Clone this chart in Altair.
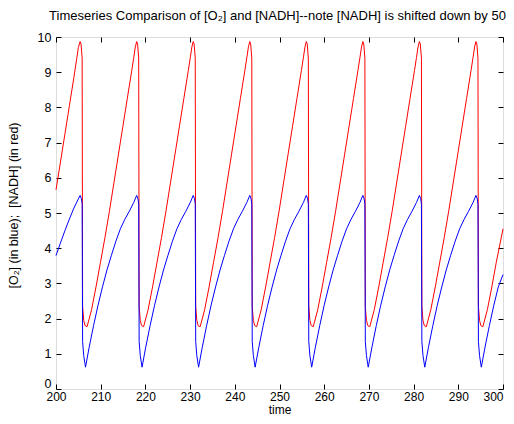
import altair as alt
import pandas as pd

# ---- values ----
x_ticks = [200, 210, 220, 230, 240, 250, 260, 270, 280, 290, 300]
y_ticks = [0, 1, 2, 3, 4, 5, 6, 7, 8, 9, 10]

# times of the saw-tooth peaks
peak_times = [205.4, 218.05, 230.7, 243.35, 256.0, 268.65, 281.3, 293.95]

# [NADH] (red): start of the window, one cycle measured from a peak, end value
red_head_t = [200.0, 201.0, 202.0, 203.0, 204.0, 204.6, 205.0]
red_head_v = [5.66, 6.45, 7.25, 8.05, 8.85, 9.35, 9.70]
red_cycle_dt = [0.0, 0.2, 0.45, 0.55, 0.8, 1.1, 1.55, 2.55, 3.55, 4.55, 5.55,
                6.55, 7.55, 8.55, 9.55, 10.55, 11.55, 12.0, 12.35]
red_cycle_v = [9.87, 9.80, 9.40, 2.35, 1.95, 1.80, 1.77, 2.25, 2.90, 3.60, 4.30,
               5.05, 5.85, 6.65, 7.45, 8.25, 9.05, 9.42, 9.72]
red_end_t = [300.0]
red_end_v = [4.55]

# [O2] (blue)
blue_head_t = [200.0, 201.0, 202.0, 203.0, 204.0, 205.0]
blue_head_v = [3.79, 4.15, 4.50, 4.83, 5.14, 5.40]
blue_cycle_dt = [0.0, 0.3, 0.45, 0.55, 0.8, 1.2, 2.0, 3.0, 4.0, 5.0, 6.0, 7.0,
                 8.0, 9.0, 10.0, 11.0, 12.0]
blue_cycle_v = [5.50, 5.40, 5.25, 1.35, 0.95, 0.62, 1.17, 1.80, 2.38, 2.90, 3.38,
                3.80, 4.20, 4.55, 4.82, 5.05, 5.30]
blue_end_t = [300.0]
blue_end_v = [3.25]


def build(head_t, head_v, cyc_dt, cyc_v, end_t, end_v):
    rows = list(zip(head_t, head_v))
    for p in peak_times:
        for dt, v in zip(cyc_dt, cyc_v):
            t = round(p + dt, 3)
            if t < 299.5:
                rows.append((t, v))
    rows += list(zip(end_t, end_v))
    return pd.DataFrame(rows, columns=["t", "v"])


red_df = build(red_head_t, red_head_v, red_cycle_dt, red_cycle_v, red_end_t, red_end_v)
blue_df = build(blue_head_t, blue_head_v, blue_cycle_dt, blue_cycle_v, blue_end_t, blue_end_v)

FONT = "Liberation Sans"
xscale = alt.Scale(domain=[200, 300], nice=False, zero=False)
yscale = alt.Scale(domain=[0, 10], nice=False, zero=False)

base_axis = dict(tickSize=5, offset=-5, domain=False, grid=False, labelFlush=False,
                 tickColor="black", tickWidth=1, labelColor="black",
                 labelFont=FONT, titleFont=FONT,
                 titleFontWeight="normal", titleColor="black")

last_label_align = {"condition": {"test": "datum.value >= 300", "value": "right"},
                    "value": "center"}
zero_label_offset = {"condition": {"test": "datum.value <= 0", "value": -6},
                     "value": 0}

red = alt.Chart(red_df).mark_line(color="#ff0000", strokeWidth=1).encode(
    x=alt.X("t:Q", scale=xscale,
            axis=alt.Axis(orient="bottom", values=x_ticks, title="time",
                          labelPadding=2, labelAlign=last_label_align,
                          labelFontSize=12, titleFontSize=12,
                          titleX=223.5, titleY=29,
                          titleBaseline="alphabetic", **base_axis)),
    y=alt.Y("v:Q", scale=yscale,
            axis=alt.Axis(orient="left", values=y_ticks,
                          title="[O\u2082] (in blue);\u00a0 [NADH] (in red)",
                          labelPadding=5, labelOffset=zero_label_offset,
                          labelFontSize=12.5, titleFontSize=12.5,
                          titleX=-48, titleY=168,
                          titleBaseline="middle", **base_axis)),
)

blue = alt.Chart(blue_df).mark_line(color="#0000ff", strokeWidth=1).encode(
    x=alt.X("t:Q", scale=xscale,
            axis=alt.Axis(orient="top", values=x_ticks, labels=False, title=None,
                          **base_axis)),
    y=alt.Y("v:Q", scale=yscale,
            axis=alt.Axis(orient="right", values=y_ticks, labels=False, title=None,
                          **base_axis)),
)

chart = alt.layer(red, blue).resolve_axis(x="independent", y="independent").properties(
    width=447,
    height=352,
    autosize=alt.AutoSizeParams(type="none"),
    padding={"left": 48, "top": 29, "right": 3, "bottom": 27},
    title=alt.TitleParams(
        "Timeseries Comparison of [O\u2082] and [NADH]--note [NADH] is shifted down by 50",
        font=FONT, fontSize=13, fontWeight="normal", color="black",
        anchor="middle", frame="group", offset=8, dx=-2),
).configure_view(stroke="black", strokeWidth=1).configure(background="white")

chart.save("out.html", embed_options={"renderer": "svg", "actions": False})
